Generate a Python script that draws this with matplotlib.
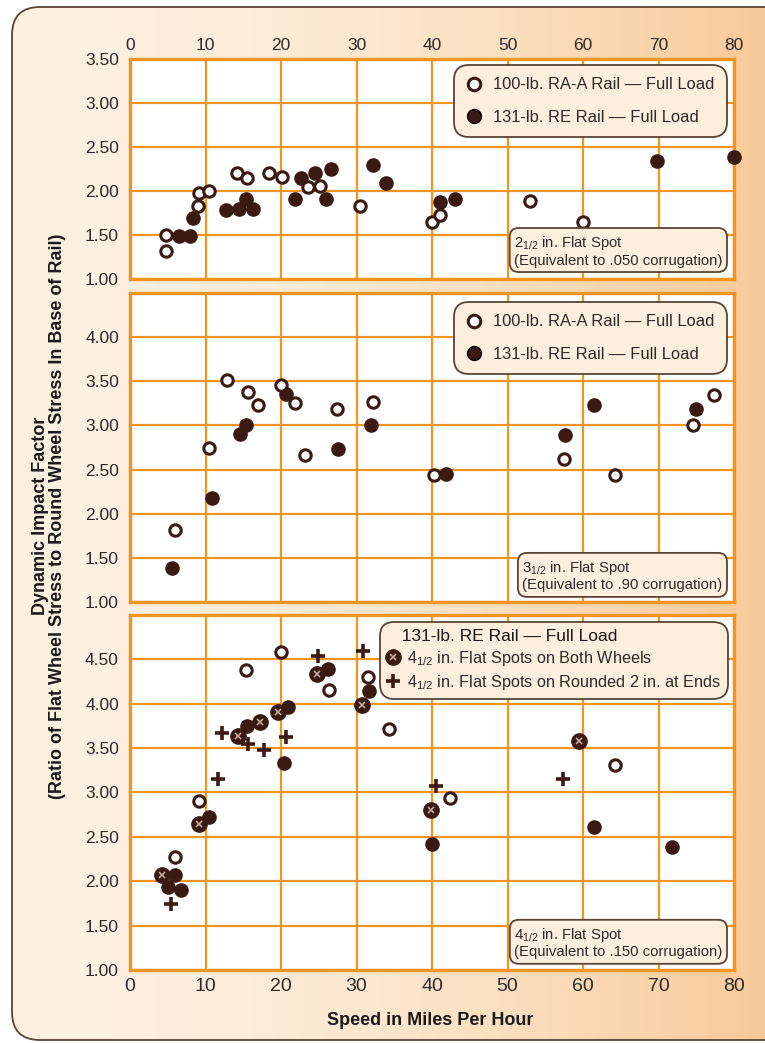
import numpy as np
import matplotlib.pyplot as plt
from matplotlib.patches import FancyBboxPatch
from matplotlib.lines import Line2D

# Panel 1: 2 1/2 in. flat spot
p1_open_x = [4.7, 4.8, 9.0, 9.1, 10.5, 14.2, 15.5, 18.4, 20.1, 23.6, 25.2, 30.4, 40.0, 41.0, 53.0, 60.0]
p1_open_y = [1.50, 1.32, 1.83, 1.98, 2.00, 2.20, 2.15, 2.20, 2.16, 2.04, 2.06, 1.83, 1.65, 1.73, 1.89, 1.65]
p1_fill_x = [6.5, 7.9, 8.3, 12.7, 14.4, 15.3, 16.3, 21.8, 22.7, 24.5, 25.9, 26.6, 32.2, 33.9, 41.0, 43.1, 69.8, 80.0]
p1_fill_y = [1.49, 1.49, 1.69, 1.78, 1.79, 1.91, 1.80, 1.91, 2.15, 2.20, 1.91, 2.25, 2.29, 2.09, 1.88, 1.91, 2.34, 2.39]

# Panel 2: 3 1/2 in. flat spot
p2_open_x = [6.0, 10.5, 12.9, 15.6, 17.0, 20.0, 21.9, 23.2, 27.4, 32.2, 40.3, 57.5, 64.3, 74.6, 77.4]
p2_open_y = [1.82, 2.74, 3.52, 3.38, 3.23, 3.46, 3.25, 2.67, 3.19, 3.26, 2.44, 2.62, 2.44, 3.00, 3.34]
p2_fill_x = [5.5, 10.9, 14.6, 15.4, 20.6, 27.6, 31.9, 41.8, 57.6, 61.4, 75.0]
p2_fill_y = [1.38, 2.18, 2.90, 3.00, 3.36, 2.73, 3.00, 2.45, 2.89, 3.23, 3.19]

# Panel 3: 4 1/2 in. flat spot
p3_open_x = [5.9, 9.1, 15.3, 20.0, 26.3, 31.5, 34.3, 42.4, 64.3]
p3_open_y = [2.27, 2.90, 4.38, 4.58, 4.15, 4.30, 3.71, 2.94, 3.31]
p3_fill_x = [5.0, 6.0, 6.7, 10.4, 15.5, 20.4, 20.9, 26.2, 31.7, 40.0, 61.5, 71.8]
p3_fill_y = [1.93, 2.07, 1.90, 2.72, 3.75, 3.33, 3.96, 4.39, 4.14, 2.42, 2.61, 2.39]
p3_cross_x = [4.2, 9.1, 14.3, 17.2, 19.6, 24.8, 30.7, 39.9, 59.5]
p3_cross_y = [2.07, 2.64, 3.64, 3.79, 3.91, 4.34, 3.98, 2.80, 3.58]
p3_plus_x = [5.4, 11.7, 12.2, 15.6, 17.8, 20.6, 24.9, 30.9, 40.5, 57.4]
p3_plus_y = [1.74, 3.15, 3.67, 3.55, 3.48, 3.62, 4.54, 4.59, 3.07, 3.15]

x_ticks = [0, 10, 20, 30, 40, 50, 60, 70, 80]
open_label = "100-lb. RA-A Rail \u2014 Full Load"
fill_label = "131-lb. RE Rail \u2014 Full Load"
half = r"$_{\mathregular{1/2}}$"

ORANGE = '#f2951f'
BROWN = '#3a1a12'
TEXT = '#2b2b2b'
BOX_FC = '#fdeedd'
BOX_EC = '#5a4434'

plt.rcParams['font.family'] = ['Liberation Sans', 'DejaVu Sans']
plt.rcParams['mathtext.fontset'] = 'custom'
plt.rcParams['mathtext.rm'] = 'Liberation Sans'
NARROW = ['Liberation Sans Narrow', 'Liberation Sans', 'DejaVu Sans']

fig = plt.figure(figsize=(7.65, 10.43), dpi=100)
fig.patch.set_facecolor('white')

# background: rounded frame with cream -> orange gradient
bg = fig.add_axes([0, 0, 1, 1], zorder=-5)
bg.set_xlim(0, 765)
bg.set_ylim(1043, 0)
bg.axis('off')
t = np.linspace(0, 1, 400) ** 1.8
c0 = np.array([253, 241, 226]) / 255
c1 = np.array([248, 198, 146]) / 255
grad = c0[None, :] + (c1 - c0)[None, :] * t[:, None]
frame = FancyBboxPatch((12, 7), 790, 1033, boxstyle="round,pad=0,rounding_size=28",
                       fc='none', ec=BOX_EC, lw=1.3, zorder=3)
bg.add_patch(frame)
img = bg.imshow(grad[None, :, :], extent=(12, 802, 1040, 7), aspect='auto', zorder=1)
img.set_clip_path(frame)


def style_axis(ax, ymax, yticks):
    ax.set_facecolor('white')
    ax.set_xlim(0, 80)
    ax.set_ylim(1.0, ymax)
    ax.set_xticks(x_ticks)
    ax.set_yticks(yticks)
    ax.set_yticklabels(["%.2f" % v for v in yticks])
    ax.grid(True, color=ORANGE, lw=1.6)
    ax.set_axisbelow(True)
    for s in ax.spines.values():
        s.set_color(ORANGE)
        s.set_linewidth(2.4)
    ax.tick_params(length=0, labelsize=12.5, labelcolor=TEXT, pad=8)


def plot_pair(ax, ox, oy, fx, fy):
    ax.plot(fx, fy, 'o', ms=9.5, mfc=BROWN, mec=BROWN, ls='none', zorder=4)
    ax.plot(ox, oy, 'o', ms=8.2, mfc='white', mec=BROWN, mew=2.2, ls='none', zorder=4)


def pair_legend(ax, y_top):
    handles = [Line2D([], [], marker='o', ls='none', ms=9, mfc='white', mec=BROWN, mew=2.2),
               Line2D([], [], marker='o', ls='none', ms=10, mfc=BROWN, mec='black', mew=1)]
    leg = ax.legend(handles, [open_label, fill_label], loc='upper right',
                    bbox_to_anchor=(0.988, y_top), borderaxespad=0, fontsize=11.9,
                    handlelength=0.9, handletextpad=0.7, labelspacing=1.05, borderpad=0.75,
                    fancybox=True, framealpha=1, facecolor=BOX_FC, edgecolor=BOX_EC,
                    labelcolor=TEXT)
    leg.get_frame().set_boxstyle('round,pad=0,rounding_size=0.9')
    leg.get_frame().set_linewidth(1.3)
    return leg


def note(ax, size, equiv, y):
    ax.text(0.981, y, size + half + " in. Flat Spot\n(Equivalent to " + equiv + " corrugation)",
            transform=ax.transAxes, ha='right', va='bottom', ma='left', fontsize=10.7,
            color=TEXT, linespacing=1.1, zorder=6,
            bbox=dict(boxstyle='round,pad=0.3,rounding_size=0.6', fc=BOX_FC, ec=BOX_EC, lw=1.3))


ax1 = fig.add_axes([0.170, 0.7325, 0.7895, 0.2109])
ax2 = fig.add_axes([0.170, 0.4228, 0.7895, 0.2963])
ax3 = fig.add_axes([0.170, 0.0700, 0.7895, 0.3404])

style_axis(ax1, 3.5, [1.0, 1.5, 2.0, 2.5, 3.0, 3.5])
style_axis(ax2, 4.5, [1.0, 1.5, 2.0, 2.5, 3.0, 3.5, 4.0])
style_axis(ax3, 5.0, [1.0, 1.5, 2.0, 2.5, 3.0, 3.5, 4.0, 4.5])

ax1.xaxis.tick_top()
ax1.tick_params(axis='x', pad=4)
ax2.tick_params(axis='x', labelbottom=False)
ax3.tick_params(axis='x', pad=6)
for lab in ax3.get_xticklabels():
    lab.set_family(NARROW)
    lab.set_fontsize(14)

plot_pair(ax1, p1_open_x, p1_open_y, p1_fill_x, p1_fill_y)
plot_pair(ax2, p2_open_x, p2_open_y, p2_fill_x, p2_fill_y)
plot_pair(ax3, p3_open_x, p3_open_y, p3_fill_x, p3_fill_y)
ax3.plot(p3_cross_x, p3_cross_y, 'o', ms=11, mfc=BROWN, mec=BROWN, ls='none', zorder=4)
ax3.plot(p3_cross_x, p3_cross_y, 'x', ms=4, mec='#cdb3a6', mew=1.1, ls='none', zorder=5)
ax3.plot(p3_plus_x, p3_plus_y, '+', ms=10, mec=BROWN, mew=2.6, ls='none', zorder=4)

for ax in (ax1, ax2, ax3):
    for ln in ax.lines:
        ln.set_clip_on(False)

pair_legend(ax1, 0.973)
pair_legend(ax2, 0.971)

cross_h = (Line2D([], [], marker='o', ls='none', ms=11, mfc=BROWN, mec=BROWN),
           Line2D([], [], marker='x', ls='none', ms=4, mec='#cdb3a6', mew=1.1))
plus_h = Line2D([], [], marker='+', ls='none', ms=10, mec=BROWN, mew=2.6)
leg3 = ax3.legend([cross_h, plus_h],
                  ["4" + half + " in. Flat Spots on Both Wheels",
                   "4" + half + " in. Flat Spots on Rounded 2 in. at Ends"],
                  title="   " + fill_label, alignment='left', loc='upper right',
                  bbox_to_anchor=(0.990, 0.981), borderaxespad=0, fontsize=11.7,
                  title_fontsize=12.5, handlelength=0.7, handletextpad=0.5,
                  labelspacing=0.3, borderpad=0.45,
                  fancybox=True, framealpha=1, facecolor=BOX_FC, edgecolor=BOX_EC,
                  labelcolor=TEXT)
leg3.get_title().set_color('#1a1a1a')
leg3.get_frame().set_boxstyle('round,pad=0,rounding_size=0.9')
leg3.get_frame().set_linewidth(1.3)

note(ax1, "2", ".050", 0.052)
note(ax2, "3", ".90", 0.031)
note(ax3, "4", ".150", 0.030)

fig.text(0.064, 0.505, "Dynamic Impact Factor\n(Ratio of Flat Wheel Stress to Round Wheel Stress In Base of Rail)",
         rotation=90, ha='center', va='center', fontsize=13, fontweight='bold',
         family=NARROW, color='#1a1a1a', linespacing=1.05)
fig.text(0.562, 0.022, "Speed in Miles Per Hour", ha='center', va='center',
         fontsize=13, fontweight='bold', family=NARROW, color='#1a1a1a')

fig.savefig('out.png', dpi=100)
